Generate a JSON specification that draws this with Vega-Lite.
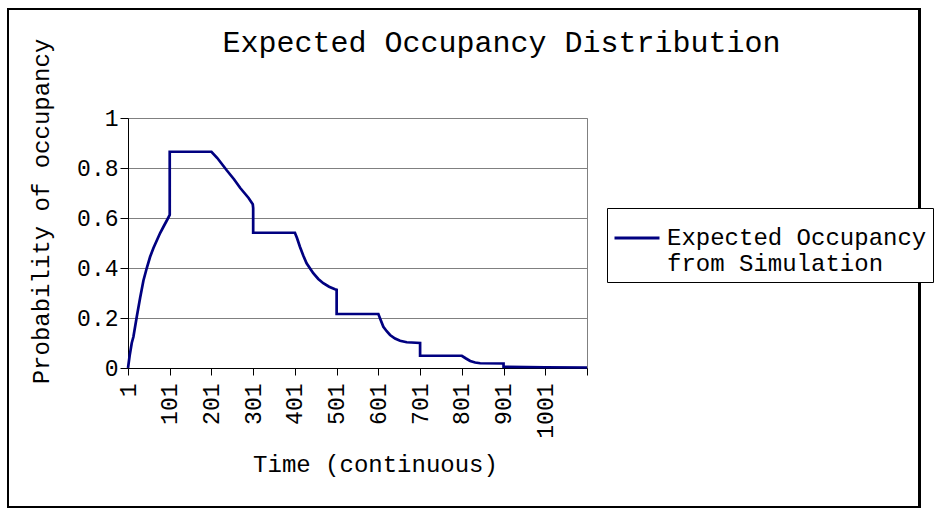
{
  "$schema": "https://vega.github.io/schema/vega-lite/v6.json",
  "width": 459,
  "height": 250,
  "autosize": {"type": "none"},
  "padding": {"left": 128, "top": 118, "right": 352, "bottom": 141},
  "background": "white",
  "title": {
    "text": "Expected Occupancy Distribution",
    "font": "Liberation Mono",
    "fontSize": 30,
    "fontWeight": "normal",
    "color": "#000000",
    "anchor": "middle",
    "frame": "group",
    "baseline": "alphabetic",
    "offset": -74,
    "dx": 144
  },
  "config": {
    "font": "Liberation Mono",
    "view": {"stroke": "#808080", "strokeWidth": 1},
    "axis": {
      "labelFont": "Liberation Mono",
      "titleFont": "Liberation Mono",
      "labelColor": "#000000",
      "titleColor": "#000000",
      "titleFontWeight": "normal",
      "domainColor": "#000000",
      "tickColor": "#000000"
    }
  },
  "data": {
    "values": [
      {"t": 1, "p": 0.0, "s": "Expected Occupancy from Simulation"},
      {"t": 5, "p": 0.05, "s": "Expected Occupancy from Simulation"},
      {"t": 10, "p": 0.1, "s": "Expected Occupancy from Simulation"},
      {"t": 14, "p": 0.125, "s": "Expected Occupancy from Simulation"},
      {"t": 22, "p": 0.205, "s": "Expected Occupancy from Simulation"},
      {"t": 30, "p": 0.28, "s": "Expected Occupancy from Simulation"},
      {"t": 38, "p": 0.35, "s": "Expected Occupancy from Simulation"},
      {"t": 46, "p": 0.4, "s": "Expected Occupancy from Simulation"},
      {"t": 54, "p": 0.445, "s": "Expected Occupancy from Simulation"},
      {"t": 62, "p": 0.48, "s": "Expected Occupancy from Simulation"},
      {"t": 70, "p": 0.51, "s": "Expected Occupancy from Simulation"},
      {"t": 78, "p": 0.54, "s": "Expected Occupancy from Simulation"},
      {"t": 86, "p": 0.565, "s": "Expected Occupancy from Simulation"},
      {"t": 94, "p": 0.59, "s": "Expected Occupancy from Simulation"},
      {"t": 101, "p": 0.612, "s": "Expected Occupancy from Simulation"},
      {"t": 101, "p": 0.865, "s": "Expected Occupancy from Simulation"},
      {"t": 201, "p": 0.865, "s": "Expected Occupancy from Simulation"},
      {"t": 215, "p": 0.84, "s": "Expected Occupancy from Simulation"},
      {"t": 238, "p": 0.79, "s": "Expected Occupancy from Simulation"},
      {"t": 255, "p": 0.755, "s": "Expected Occupancy from Simulation"},
      {"t": 270, "p": 0.72, "s": "Expected Occupancy from Simulation"},
      {"t": 290, "p": 0.68, "s": "Expected Occupancy from Simulation"},
      {"t": 300, "p": 0.655, "s": "Expected Occupancy from Simulation"},
      {"t": 301, "p": 0.64, "s": "Expected Occupancy from Simulation"},
      {"t": 301, "p": 0.541, "s": "Expected Occupancy from Simulation"},
      {"t": 401, "p": 0.541, "s": "Expected Occupancy from Simulation"},
      {"t": 406, "p": 0.52, "s": "Expected Occupancy from Simulation"},
      {"t": 413, "p": 0.485, "s": "Expected Occupancy from Simulation"},
      {"t": 421, "p": 0.45, "s": "Expected Occupancy from Simulation"},
      {"t": 429, "p": 0.419, "s": "Expected Occupancy from Simulation"},
      {"t": 445, "p": 0.379, "s": "Expected Occupancy from Simulation"},
      {"t": 457, "p": 0.356, "s": "Expected Occupancy from Simulation"},
      {"t": 469, "p": 0.339, "s": "Expected Occupancy from Simulation"},
      {"t": 483, "p": 0.325, "s": "Expected Occupancy from Simulation"},
      {"t": 497, "p": 0.315, "s": "Expected Occupancy from Simulation"},
      {"t": 501, "p": 0.313, "s": "Expected Occupancy from Simulation"},
      {"t": 501, "p": 0.216, "s": "Expected Occupancy from Simulation"},
      {"t": 601, "p": 0.216, "s": "Expected Occupancy from Simulation"},
      {"t": 607, "p": 0.19, "s": "Expected Occupancy from Simulation"},
      {"t": 613, "p": 0.165, "s": "Expected Occupancy from Simulation"},
      {"t": 621, "p": 0.147, "s": "Expected Occupancy from Simulation"},
      {"t": 629, "p": 0.132, "s": "Expected Occupancy from Simulation"},
      {"t": 641, "p": 0.118, "s": "Expected Occupancy from Simulation"},
      {"t": 653, "p": 0.109, "s": "Expected Occupancy from Simulation"},
      {"t": 669, "p": 0.103, "s": "Expected Occupancy from Simulation"},
      {"t": 701, "p": 0.1, "s": "Expected Occupancy from Simulation"},
      {"t": 701, "p": 0.049, "s": "Expected Occupancy from Simulation"},
      {"t": 801, "p": 0.049, "s": "Expected Occupancy from Simulation"},
      {"t": 811, "p": 0.038, "s": "Expected Occupancy from Simulation"},
      {"t": 821, "p": 0.028, "s": "Expected Occupancy from Simulation"},
      {"t": 833, "p": 0.022, "s": "Expected Occupancy from Simulation"},
      {"t": 845, "p": 0.019, "s": "Expected Occupancy from Simulation"},
      {"t": 901, "p": 0.018, "s": "Expected Occupancy from Simulation"},
      {"t": 901, "p": 0.005, "s": "Expected Occupancy from Simulation"},
      {"t": 1001, "p": 0.003, "s": "Expected Occupancy from Simulation"},
      {"t": 1101, "p": 0.002, "s": "Expected Occupancy from Simulation"}
    ]
  },
  "layer": [
    {
      "mark": {"type": "rect", "fill": null, "stroke": "#000000", "strokeWidth": 1.5, "clip": false},
      "encoding": {
        "x": {"datum": -286.8, "type": "quantitative", "scale": {"domain": [1, 1101]}},
        "x2": {"datum": 1897.8},
        "y": {"datum": 1.436, "type": "quantitative", "scale": {"domain": [0, 1]}},
        "y2": {"datum": -0.556}
      }
    },
    {
      "mark": {"type": "line", "strokeWidth": 2.7, "clip": false},
      "encoding": {
        "x": {
          "field": "t",
          "type": "quantitative",
          "scale": {"domain": [1, 1101], "nice": false, "zero": false},
          "axis": {
            "title": "Time (continuous)",
            "titleFontSize": 24,
            "titleX": 247,
            "titleY": 103,
            "titleBaseline": "alphabetic",
            "titleAnchor": "middle",
            "titleAlign": "center",
            "values": [1, 101, 201, 301, 401, 501, 601, 701, 801, 901, 1001, 1101],
            "format": "d",
            "labelExpr": "datum.value > 1050 ? '' : datum.label",
            "labelAngle": 270,
            "labelAlign": "right",
            "labelBaseline": "middle",
            "labelFontSize": 23,
            "labelPadding": 8,
            "tickSize": 7,
            "grid": false,
            "labelOverlap": false,
            "labelBound": false,
            "labelFlush": false
          }
        },
        "y": {
          "field": "p",
          "type": "quantitative",
          "scale": {"domain": [0, 1], "nice": false},
          "axis": {
            "title": "Probability of occupancy",
            "titleFontSize": 24,
            "titleAngle": 270,
            "titleX": -80,
            "titleY": 93,
            "titleBaseline": "alphabetic",
            "titleAlign": "center",
            "values": [0, 0.2, 0.4, 0.6, 0.8, 1],
            "format": "~g",
            "labelFontSize": 23,
            "labelPadding": 2,
            "tickSize": 8,
            "grid": true,
            "gridColor": "#808080",
            "gridWidth": 1,
            "labelOverlap": false,
            "labelFlush": false
          }
        },
        "color": {
          "field": "s",
          "type": "nominal",
          "scale": {"range": ["#000080"]},
          "legend": {
            "title": null,
            "orient": "none",
            "legendX": 479,
            "legendY": 90,
            "strokeColor": "#000000",
            "fillColor": "#ffffff",
            "padding": 6,
            "symbolType": "stroke",
            "symbolSize": 2025,
            "symbolStrokeWidth": 3,
            "labelFont": "Liberation Mono",
            "labelFontSize": 24,
            "labelColor": "#000000",
            "labelOffset": 6,
            "labelLimit": 600,
            "labelExpr": "['Expected Occupancy', 'from Simulation']"
          }
        }
      }
    }
  ]
}
